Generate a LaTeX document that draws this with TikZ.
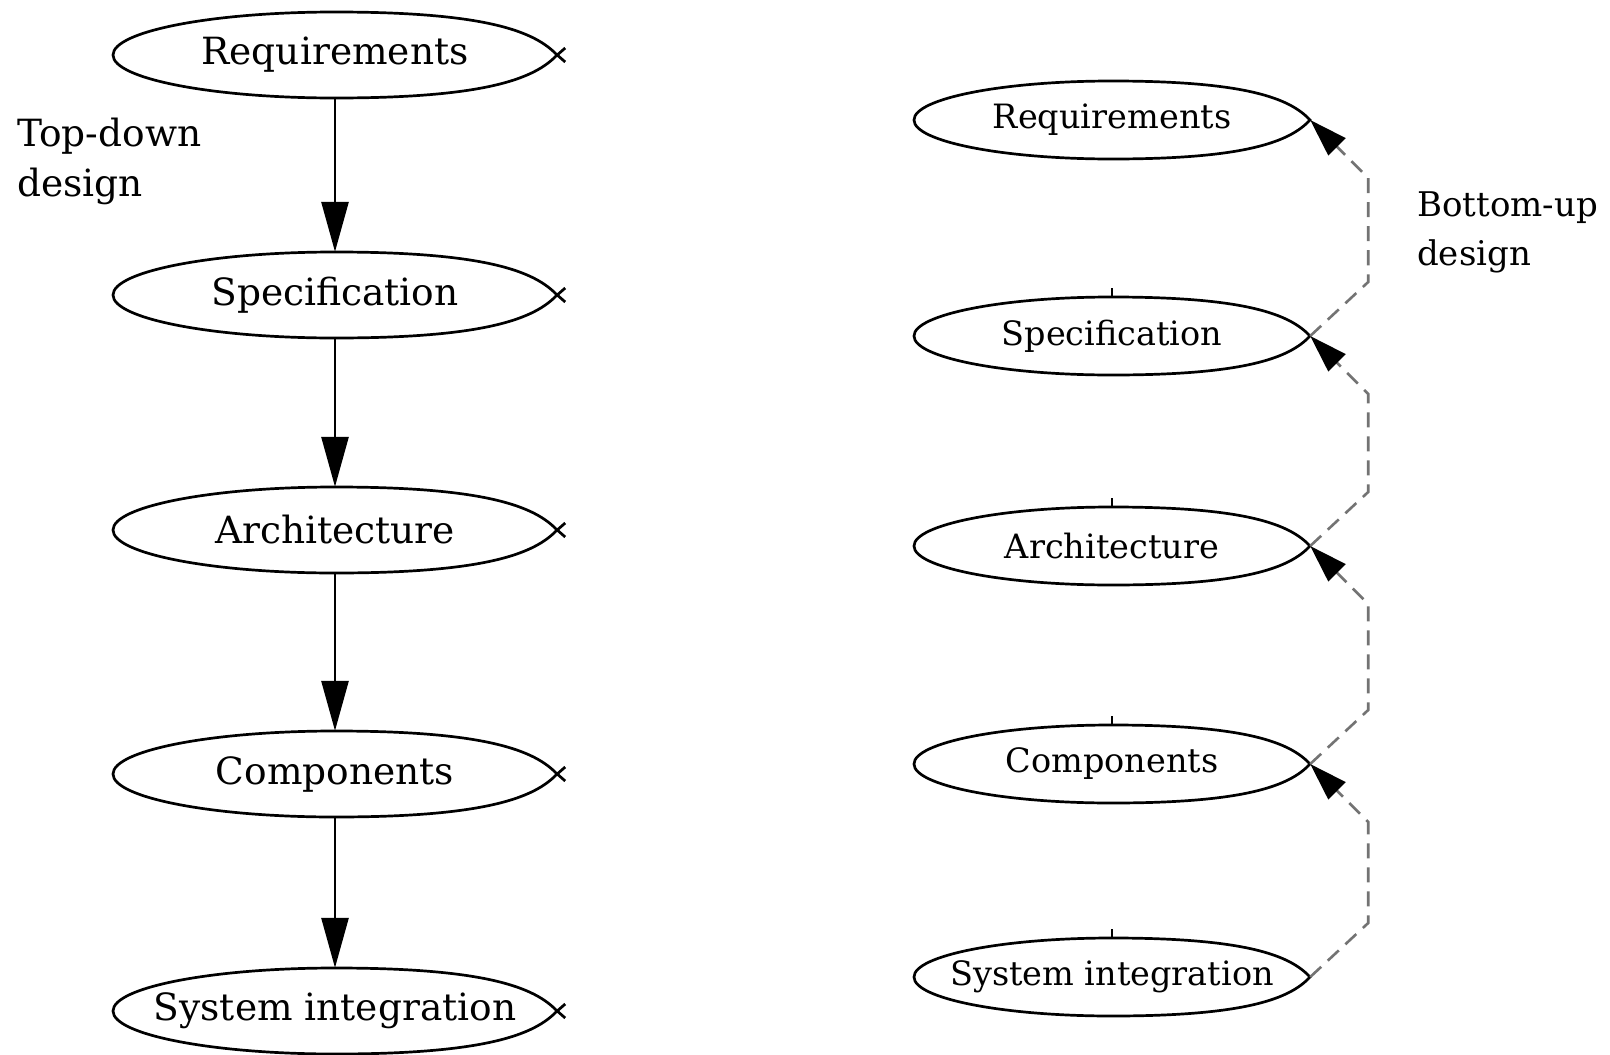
\documentclass[tikz,border=0pt]{standalone}
\usepackage{fontspec}
\setmainfont{DejaVu Serif}
\usetikzlibrary{shapes.geometric,arrows.meta,calc}
\tikzset{
  bigfont/.style={font=\fontsize{37.5}{44}\selectfont},
  smallfont/.style={font=\fontsize{33.5}{40}\selectfont},
  outline/.style={line width=2.7pt, black},
  downarrow/.style={line width=2.8pt, -{Triangle[length=50pt,width=27pt]}},
  uparrow/.style={line width=2.6pt, black!55, dash pattern=on 15pt off 9pt,
     -{Triangle[length=38pt,width=24pt,fill=black,color=black]}},
}
% #1 name, #2 cx, #3 cy, #4 rx, #5 ry, #6 style, #7 text
\newcommand\ovalnode[7]{%
  \node[ellipse, draw=none, minimum width=2*#4pt, minimum height=2*#5pt, inner sep=0pt,
        label={[#6, inner sep=0pt]center:#7}] (#1) at (#2,#3) {};
  \draw[outline] (#2,#3-#5) arc[start angle=-90, end angle=-270, x radius=#4, y radius=#5]
    .. controls +(0.68*#4,0) and +(-0.1*#4,0.55*#5) .. (#2+#4,#3)
    .. controls +(-0.1*#4,-0.55*#5) and +(0.68*#4,0) .. (#2,#3-#5);
}
\begin{document}
\begin{tikzpicture}[x=1pt,y=-1pt]
\useasboundingbox[fill=white] (0,0) rectangle (1610,1055);

% left column
\ovalnode{L1}{335}{55}{222}{43}{bigfont}{Requirements}
\ovalnode{L2}{335}{295}{222}{43}{bigfont}{Specification}
\ovalnode{L3}{335}{530}{222}{43}{bigfont}{Architecture}
\ovalnode{L4}{335}{774}{222}{43}{bigfont}{Components}
\ovalnode{L5}{335}{1011}{222}{43}{bigfont}{System integration}

\foreach \n in {L1,L2,L3,L4,L5}{
  \draw[outline] (\n.east) -- ++(8,7);
  \draw[outline] (\n.east) -- ++(8,-7);
}

\draw[downarrow] (L1.south) -- (L2.north);
\draw[downarrow] (L2.south) -- (L3.north);
\draw[downarrow] (L3.south) -- (L4.north);
\draw[downarrow] (L4.south) -- (L5.north);

\node[align=left, anchor=north west, inner sep=0pt,
      font=\fontsize{37.5}{50}\selectfont] (TD) at (17,118) {Top-down\\design};

% right column
\ovalnode{R1}{1112}{120}{198}{39}{smallfont}{Requirements}
\ovalnode{R2}{1112}{336}{198}{39}{smallfont}{Specification}
\ovalnode{R3}{1112}{546}{198}{39}{smallfont}{Architecture}
\ovalnode{R4}{1112}{764}{198}{39}{smallfont}{Components}
\ovalnode{R5}{1112}{977}{198}{39}{smallfont}{System integration}

\foreach \n in {R2,R3,R4,R5}{
  \draw[line width=2.2pt] (\n.north) -- ++(0,-9);
}

\draw[uparrow] (R5.east) -- ++(58,-54) -- ($(R4.east)+(58,58)$) -- (R4.east);
\draw[uparrow] (R4.east) -- ++(58,-54) -- ($(R3.east)+(58,58)$) -- (R3.east);
\draw[uparrow] (R3.east) -- ++(58,-54) -- ($(R2.east)+(58,58)$) -- (R2.east);
\draw[uparrow] (R2.east) -- ++(58,-54) -- ($(R1.east)+(58,58)$) -- (R1.east);

\node[anchor=north west, inner sep=0pt, align=left,
      font=\fontsize{34}{49}\selectfont] (BU) at (1417,192) {Bottom-up\\design};
\end{tikzpicture}
\end{document}
